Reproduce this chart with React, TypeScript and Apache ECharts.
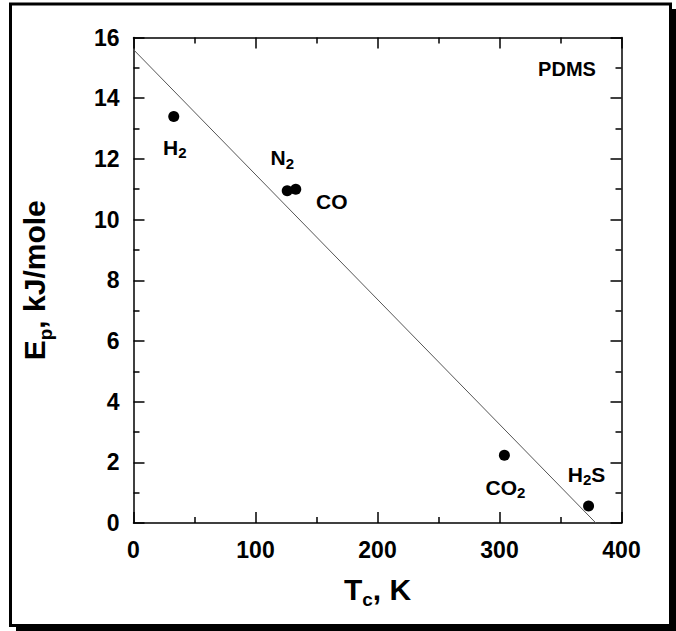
import React, { useEffect, useRef } from "react";
import * as echarts from "echarts";

const FONT = "'Liberation Sans', Arial, Helvetica, sans-serif";

// Gas data: critical temperature (K) and activation energy (kJ/mole)
const gasNames = ["H2", "N2", "CO", "CO2", "H2S"];
const gasLabels = ["{m|H}{s|2}", "{m|N}{s|2}", "{m|CO}", "{m|CO}{s|2}", "{m|H}{s|2}{m|S}"];
const criticalTemp = [33, 126, 133, 304, 373];
const activationEnergy = [13.4, 10.95, 11.0, 2.23, 0.56];
// label offsets from the point (pixels)
const labelOffsets = [
  [1, 31],
  [-5, -33],
  [36, 12],
  [1, 32],
  [-2, -32],
];

// Fitted correlation line endpoints
const fitX = [0, 379];
const fitY = [15.6, 0];

const xTicks = { min: 0, max: 400, interval: 100 };
const yTicks = { min: 0, max: 16, interval: 2 };

export default function App() {
  const ref = useRef<HTMLDivElement>(null);

  useEffect(() => {
    if (!ref.current) return;
    const chart = echarts.init(ref.current, undefined, { renderer: "svg" });

    const labelRich = {
      m: { fontSize: 21, fontWeight: "bold", fontFamily: FONT, color: "#000", lineHeight: 26, verticalAlign: "middle" },
      s: { fontSize: 15, fontWeight: "bold", fontFamily: FONT, color: "#000", lineHeight: 10, verticalAlign: "bottom" },
    };

    const axisCommon = (showLabels: boolean) => ({
      axisLine: { show: true, onZero: false, lineStyle: { color: "#000", width: 1.5 } },
      axisTick: { show: true, inside: true, length: 11, lineStyle: { color: "#000", width: 1.5 } },
      minorTick: { show: true, splitNumber: 2, length: 6, lineStyle: { color: "#000", width: 1.5 } },
      splitLine: { show: false },
      axisLabel: {
        show: showLabels,
        color: "#000",
        fontSize: 23,
        fontWeight: "bold",
        fontFamily: FONT,
      },
    });

    const scatterData = criticalTemp.map((x, i) => ({
      name: gasNames[i],
      value: [x, activationEnergy[i]],
      label: {
        show: true,
        position: "inside",
        offset: labelOffsets[i],
        formatter: gasLabels[i],
        color: "#000",
        opacity: 1,
        rich: labelRich,
      },
    }));

    chart.setOption({
      animation: false,
      backgroundColor: "#fff",
      grid: { left: 133.5, right: 54.5, top: 37.5, bottom: 108, containLabel: false },
      xAxis: [
        {
          type: "value",
          position: "bottom",
          ...xTicks,
          ...axisCommon(true),
          axisLabel: { ...axisCommon(true).axisLabel, margin: 15 },
          name: "{m|T}{s|c}{m|, K}",
          nameLocation: "middle",
          nameGap: 46,
          nameTextStyle: {
            rich: {
              m: { fontSize: 30, fontWeight: "bold", fontFamily: FONT, color: "#000", lineHeight: 40, verticalAlign: "middle" },
              s: { fontSize: 19, fontWeight: "bold", fontFamily: FONT, color: "#000", lineHeight: 9, verticalAlign: "bottom" },
            },
          },
        },
        {
          type: "value",
          position: "top",
          ...xTicks,
          ...axisCommon(false),
        },
      ],
      yAxis: [
        {
          type: "value",
          position: "left",
          ...yTicks,
          ...axisCommon(true),
          axisLabel: { ...axisCommon(true).axisLabel, margin: 14 },
          name: "{m|E}{s|p}{m|, kJ/mole}",
          nameLocation: "middle",
          nameGap: 79,
          nameTextStyle: {
            rich: {
              m: { fontSize: 30, fontWeight: "bold", fontFamily: FONT, color: "#000", lineHeight: 40, verticalAlign: "middle" },
              s: { fontSize: 19, fontWeight: "bold", fontFamily: FONT, color: "#000", lineHeight: 26, verticalAlign: "bottom" },
            },
          },
        },
        {
          type: "value",
          position: "right",
          ...yTicks,
          ...axisCommon(false),
        },
      ],
      graphic: [
        {
          type: "rect",
          z: -10,
          silent: true,
          shape: { x: 10.5, y: 4, width: 660, height: 621.5 },
          style: { fill: "#fff", stroke: "#000", lineWidth: 3 },
        },
        {
          type: "rect",
          silent: true,
          shape: { x: 672, y: 9, width: 4, height: 622 },
          style: { fill: "#000" },
        },
        {
          type: "rect",
          silent: true,
          shape: { x: 16, y: 627, width: 660, height: 4 },
          style: { fill: "#000" },
        },
        {
          type: "text",
          silent: true,
          style: {
            text: "PDMS",
            x: 567,
            y: 69,
            align: "center",
            verticalAlign: "middle",
            textAlign: "center",
            textVerticalAlign: "middle",
            font: `bold 20px ${FONT}`,
            fill: "#000",
          },
        },
      ],
      series: [
        {
          type: "line",
          name: "fit",
          data: fitX.map((x, i) => [x, fitY[i]]),
          symbol: "none",
          lineStyle: { color: "#555", width: 1 },
          silent: true,
          z: 1,
        },
        {
          type: "scatter",
          name: "gases",
          data: scatterData,
          symbol: "circle",
          symbolSize: 11,
          itemStyle: { color: "#000", opacity: 1 },
          z: 2,
        },
      ],
    });

    return () => chart.dispose();
  }, []);

  return (
    <div
      ref={ref}
      style={{ position: "absolute", left: 0, top: 0, width: 676, height: 631 }}
    />
  );
}
